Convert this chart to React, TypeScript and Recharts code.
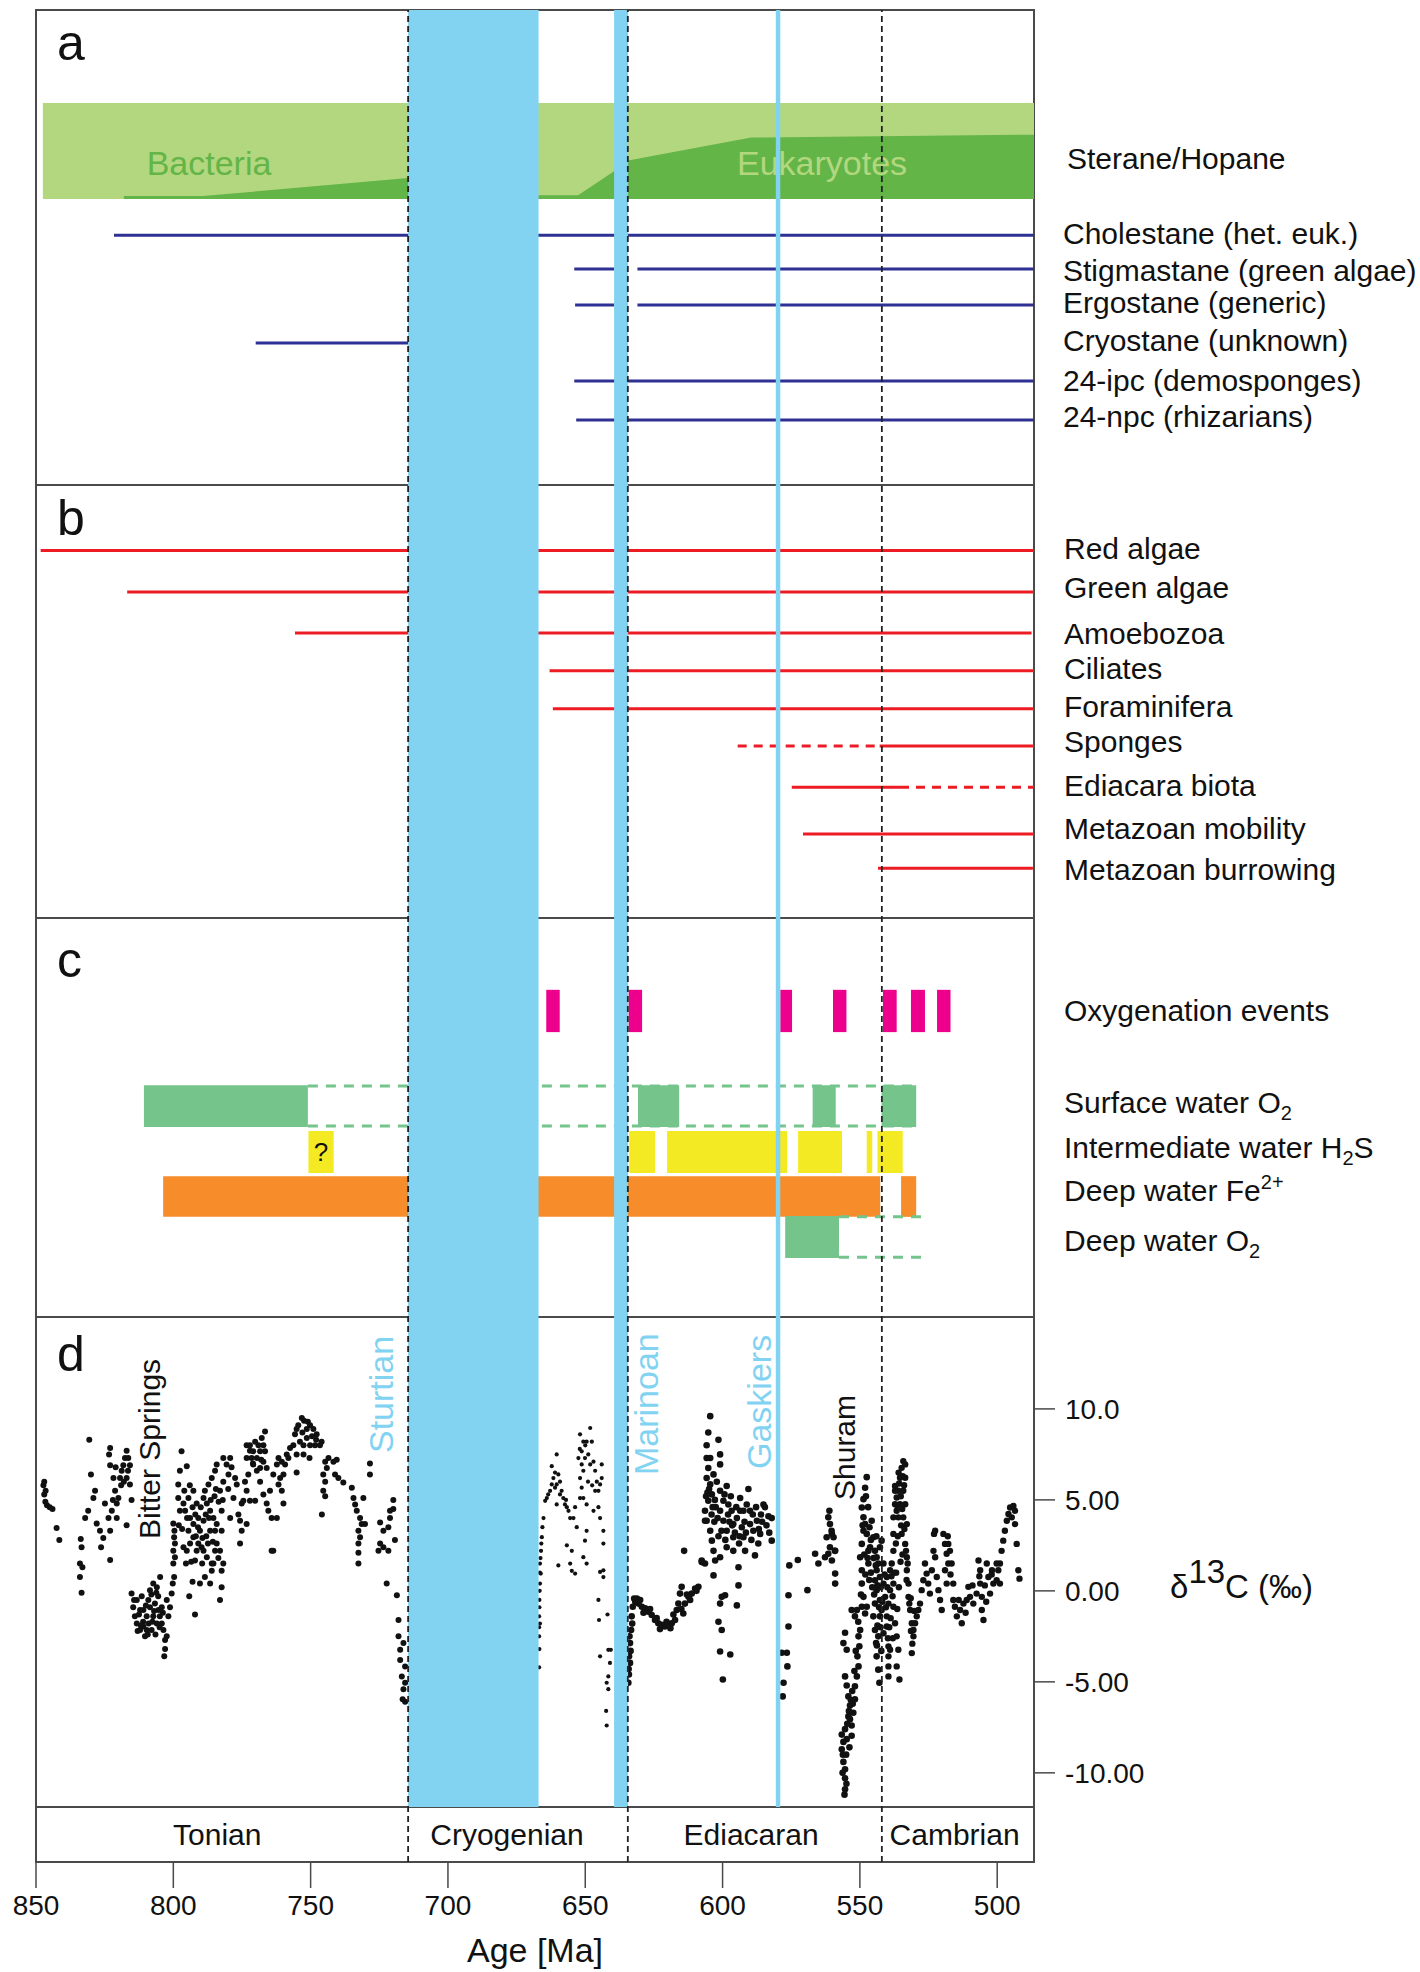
import React from "react";
import { ComposedChart, XAxis, YAxis, ReferenceLine, ReferenceArea, ReferenceDot, Area, Scatter } from "recharts";

const FONT = "'Liberation Sans', Arial, Helvetica, sans-serif";

// ---------------- data ----------------
const AGE_MAX = 850;
const AGE_MIN = 486.6;
const ageTicks = [850, 800, 750, 700, 650, 600, 550, 500];
const d13cTicks = [10, 5, 0, -5, -10];
const d13cTickLabels = ["10.0", "5.00", "0.00", "-5.00", "-10.00"];

const periodNames = ["Tonian", "Cryogenian", "Ediacaran", "Cambrian"];
const periodLabelAge = [784, 678.5, 589.6, 515.5];
const boundaryAges = [714.5, 634.5, 542];

const glacialNames = ["Sturtian", "Marinoan"];
const glacialStart = [714.5, 639.5];
const glacialEnd = [667, 634.4];
const gaskiersAge = 579.8;

// panel a: sterane / hopane
const steraneBandStart = 847.5;
const steraneAges = [818, 789.2, 714.5, 667, 652.6, 639.5, 634.4, 589.6, 486.6];
const steraneFrac = [0.03, 0.03, 0.22, 0.04, 0.04, 0.29, 0.4, 0.64, 0.67];

const biomarkerNames = [
  "Cholestane (het. euk.)",
  "Stigmastane (green algae)",
  "Ergostane (generic)",
  "Cryostane (unknown)",
  "24-ipc (demosponges)",
  "24-npc (rhizarians)",
];
const biomarkerRanges: number[][][] = [
  [[821.6, 486.6]],
  [[654, 639.5], [631, 486.6]],
  [[653.7, 639.5], [631, 486.6]],
  [[770, 714.5]],
  [[654, 486.6]],
  [[653.3, 486.6]],
];

// panel b: fossil record
const cladeNames = [
  "Red algae",
  "Green algae",
  "Amoebozoa",
  "Ciliates",
  "Foraminifera",
  "Sponges",
  "Ediacara biota",
  "Metazoan mobility",
  "Metazoan burrowing",
];
const cladeSolid: number[][] = [
  [848.3, 486.6],
  [816.8, 486.6],
  [755.7, 487.5],
  [663, 486.6],
  [661.8, 486.6],
  [542.8, 486.6],
  [574.8, 535.4],
  [570.7, 486.6],
  [543.4, 487],
];
const cladeDashed: (number[] | null)[] = [null, null, null, null, null, [594.5, 542.8], [535.4, 486.6], null, null];

// panel c: redox
const oxygenationEvents = [
  [664.2, 659.3], [634.2, 629.3], [579.0, 574.7], [559.8, 554.9],
  [541.6, 536.6], [531.4, 526.3], [521.9, 517.0],
];
const surfaceO2 = [[810.7, 751], [630.8, 615.8], [567.2, 558.8], [542.1, 529.5]];
const surfaceO2Uncertain = [751, 529.5];
const intermediateH2S = [[750.8, 741.6], [634, 624.6], [620.2, 576.5], [572.5, 556.5], [547.5, 545.5], [543.6, 534.4]];
const intermediateH2SNote = ["?", "", "", "", "", ""];
const deepFe = [[803.7, 542.6], [535, 529.5]];
const deepO2 = [[577.2, 557.6]];
const deepO2Uncertain = [557.6, 527.5];

// panel d: carbon isotopes [age Ma, d13C permil]
const tonianD13C: number[][] = [
  [847.3, 5.8], [847, 5.3], [846.6, 4.9], [846, 4.7], [845, 4.6], [844, 4.5], [846.5, 5.5], [847, 6.0],
  [842.5, 3.45], [841.5, 2.8],
  [833.7, 2.85], [833.4, 2.4], [834, 1.5], [833.1, 1.3], [834, 0.76], [833.4, -0.1],
  [830.6, 8.3], [830, 6.4],
  [832.1, 4.0], [831, 4.4], [829.1, 5.1], [828.5, 5.5], [827.9, 3.7], [826.7, 3.3], [826.3, 2.4], [825.5, 2.9],
  [824.9, 4.8], [823.6, 4.0], [823, 3.3], [823, 1.7], [823, 7.85], [823.4, 7.5], [823, 6.9], [821.8, 6.2],
  [821.2, 5.5], [820.6, 4.8], [820, 5.1], [819.4, 6.2], [818.8, 6.6], [818.2, 6.9], [817.6, 7.3], [817, 7.7],
  [816.4, 7.3], [815.8, 6.9], [817, 6.2], [815.8, 5.85], [820.6, 4.0], [817, 3.6], [815.2, 5.0], [822.4, 4.4],
  [819, 5.8], [818, 6.0], [821, 6.8], [816.5, 6.6], [822, 5.0],
  [815.2, -0.15], [814.6, -0.9], [814, -1.4], [813.3, -1.8], [812.1, -2.15], [810.9, -1.96], [809.7, -1.4],
  [810.3, -2.5], [809.1, -0.5], [808.5, 0.04], [807.3, 0.4], [806, 0.2], [806.7, -0.7], [805.4, -1.05],
  [804.9, -1.4], [804.2, -1.8], [803.6, -2.15], [803, -2.7], [803, -3.2], [803.3, -3.6], [802.4, -2.5],
  [801.8, -1.4], [801.2, -0.9], [804.8, 0.76], [812.1, -1.05], [813.3, -0.5], [808.5, -0.9], [810.9, -1.05],
  [807.3, -1.4], [807.9, -2.15], [809.7, -2.15], [806, -1.8], [804.2, -0.9], [802.4, -0.5], [800.6, -0.15],
  [811.5, -0.3], [808, -0.2], [805.5, -0.3], [811, -1.7], [806.5, -2.4], [813, -2.2], [809, -1.8],
  [812.5, -1.3], [810, -0.8], [807, -1.1], [805, -2.0], [803.8, -1.2], [811.8, -1.9], [814.3, -0.5], [806.2, -0.1],
  [809.3, -2.4], [807.6, -1.7],
  [800, 3.7], [799.7, 2.95], [800, 2.2], [800, 1.5], [799.7, 0.76], [800.2, 0.4], [799.6, 3.3], [799.4, 2.6], [799.4, 1.85],
  [797, 7.67], [797.6, 6.6], [798.2, 5.85], [798.2, 5.1], [797.6, 4.4], [796.3, 4.8], [795.1, 6.85], [794.5, 5.1],
  [793.9, 4.0], [792.7, 3.67], [792.7, 2.95], [793.9, 2.6], [795.1, 2.2], [792.7, 5.5], [791.5, 4.8], [790.9, 4.0],
  [790.3, 3.3], [789.7, 2.4], [789, 2.2], [792.1, 1.67], [793, 0.5], [794.2, -0.3], [792.1, -1.3], [790.3, 0.4],
  [788.5, 0.76], [786.6, 0.4], [786, 1.1], [785.4, 1.5], [784.8, 2.2], [784.2, 2.6], [784.2, 3.67], [785.4, 4.0],
  [786.6, 4.4], [787.8, 4.8], [789, 5.1], [788.5, 5.5], [787.2, 5.85], [786, 6.2], [784.8, 6.6], [784.2, 6.95],
  [781.8, 7.3], [780.6, 6.95], [779.3, 7.3], [778.8, 6.8], [779.9, 6.4], [781.8, 6.0], [783, 5.5], [782.4, 4.4],
  [782.4, 3.3], [783, 2.2], [781.8, 1.5], [782.4, 1.1], [782.4, 0.2], [783, -0.5], [786, 1.5], [787.8, 1.85],
  [790.9, 2.6], [791.5, 2.2], [795.7, 4.4], [794.5, 3.3], [796.3, 2.4], [786.6, 3.3], [784.8, 3.3], [789, 3.85],
  [778.1, 5.1], [779.3, 4.0], [777.5, 6.2], [776.9, 5.85],
  [796, 5.5], [795, 4.0], [793, 4.6], [791, 3.5], [788, 3.0], [787, 4.0], [785, 5.2], [783.5, 4.9], [782, 5.0],
  [780, 5.6], [789.5, 1.5], [793.5, 1.6],
  [794, 5.8], [792, 4.2], [790, 4.6], [788.2, 4.2], [786.4, 5.0], [784.5, 5.6], [791.8, 3.0], [789.4, 2.9],
  [787.4, 2.6], [785.6, 2.7], [783.6, 1.8], [796.8, 3.4], [795.4, 1.5], [798, 3.6],
  [776.3, 4.2], [775.7, 3.85], [775.1, 3.3], [775.7, 2.6], [775.1, 4.8], [774.5, 4.95], [773.9, 6.0], [773.3, 5.5],
  [772.7, 6.4], [772.1, 4.95], [773.3, 3.67], [770.2, 4.95],
  [773.3, 8.0], [772.1, 7.7], [771.5, 7.3], [770.9, 6.95], [769.6, 6.6], [768.4, 6.75], [767.2, 7.1], [766.6, 7.67],
  [766.6, 8.76], [767.8, 8.4], [769, 8.0], [768.4, 7.67], [767.2, 8.0], [769.6, 7.3], [772.1, 8.0], [770.9, 7.67],
  [773.3, 7.3], [770.2, 8.2], [766, 6.75], [768.4, 6.0], [767.2, 5.3], [766, 4.8], [765.4, 4.4], [764.2, 4.0],
  [762.3, 4.0], [764.2, 2.2], [763.6, 2.2], [764.8, 5.5], [763.6, 6.4], [762.3, 6.95], [761.7, 7.3], [760.5, 7.1],
  [759.9, 6.4], [761.7, 5.85], [760.5, 5.5], [759.9, 4.8], [761.1, 6.2], [759.3, 6.95], [758.7, 7.5], [757.5, 7.85],
  [758.1, 7.3], [756.3, 8.0], [755.7, 8.6], [755.1, 8.9], [754.5, 9.1], [753.2, 9.5], [752.4, 9.35], [751.4, 8.9],
  [750.2, 9.1], [749, 8.9], [747.8, 8.6], [748.4, 8.0], [750.2, 8.0], [751.4, 8.4], [752.6, 8.0], [753.9, 8.2],
  [755.1, 7.5], [752.6, 7.5], [750.4, 7.3], [746.6, 8.0], [746, 8.2], [755.1, 6.5],
  [771, 7.0], [768, 7.2], [753, 8.7], [751, 9.3], [749.5, 8.5], [748, 8.3],
  [744.7, 7.1], [743.5, 7.3], [741.7, 7.1], [740.5, 7.2], [744.1, 6.75], [745.4, 6.4], [744.7, 6.0], [745.4, 5.5],
  [744.7, 5.2], [745.9, 4.2], [741.1, 6.4], [739.9, 6.2], [738.1, 5.95], [735, 5.67], [734.4, 5.1], [733.8, 4.75],
  [733.2, 4.4], [732, 4.0], [730.8, 5.1], [731.4, 3.67], [730.2, 3.67], [732.6, 3.3], [732, 2.95], [732.6, 2.6],
  [732.6, 2.1], [732.6, 1.5], [728.4, 7.0], [728.4, 6.4],
  [724.7, 3.76], [723.5, 3.3], [721.7, 3.5], [721.1, 4.0], [719.9, 4.5], [719.9, 5.0], [721.1, 4.4], [724.7, 2.6],
  [725.3, 2.2], [723.5, 2.4], [721.7, 2.2], [719.3, 2.8], [722.3, 0.4], [718.6, -0.24], [718, -1.6], [718, -2.5],
  [717.4, -3.8], [716.8, -4.7], [716.2, -5.4], [715.6, -6.1], [717.4, -3.24], [716.2, -2.87], [715.6, -4.15],
  [716.5, -5.96], [715.6, -5.05],
];

const cryogenianD13C: number[][] = [
  [666.8, -2.5], [666.8, -1.4], [666.7, -0.5], [666.5, 0.4], [666.5, 1.5], [666.1, 2.2], [665.8, 2.95], [665.6, 3.5],
  [665.2, 4.0], [666.8, -4.2], [666.7, -3.2], [666.5, -1.8], [666.2, 0.95],
  [666.8, -2.0], [666.7, -0.9], [666.6, 0.0], [666.5, 1.0], [666.3, 1.8], [666, 2.6],
  [664.6, 4.95], [664, 5.1], [662.8, 5.5], [662.2, 5.85], [661.6, 6.2], [661, 5.67], [660.4, 5.85], [660.4, 7.5],
  [662.2, 6.85], [659.8, 6.4], [659.2, 6.0], [658.6, 5.5], [658, 5.1], [660.4, 4.75], [659.2, 5.3], [657.4, 4.75],
  [656.7, 4.6], [656.1, 4.4], [655.5, 4.0], [654.3, 4.0], [653.7, 4.6], [653.1, 3.5], [656.7, 2.5], [654.9, 2.2],
  [653.7, 0.95], [654.9, 1.1], [659.8, 1.4], [655.5, 1.5],
  [651.9, 8.6], [650.7, 8.2], [648.2, 8.95], [649.5, 8.2], [647.6, 8.2], [651.3, 7.67], [650.1, 7.3], [651.3, 6.95],
  [650.7, 6.6], [651.9, 6.2], [651.3, 5.67], [650.7, 5.1], [652.5, 7.3], [648.9, 7.5], [648.2, 6.95], [647, 7.1],
  [646.4, 6.6], [645.8, 6.0], [645.2, 5.5], [644.6, 5.85], [644, 6.95], [644, 6.2], [646.4, 5.5], [649.5, 4.75],
  [651.9, 5.1], [647, 4.4], [645.2, 4.6], [649.5, 3.3], [650.1, 2.76], [650.7, 1.85], [649.5, 1.5], [644.6, 4.0],
  [643.4, 3.3], [643.4, 2.6], [644.6, 1.04], [643.4, 1.13], [643.4, 0.76], [645.2, -0.5], [645, -1.6], [641.9, -1.3],
  [644.6, -3.6], [641.6, -3.24], [641, -3.96], [641.6, -4.7], [642.2, -5.05], [641.6, -5.4], [642.4, -6.6],
  [642.2, -7.4], [640.7, -3.24],
  [663.5, 5.3], [661, 6.5], [657, 5.0], [652, 7.8], [650, 8.0], [649, 6.0], [647.5, 5.8],
];

const ediacaranD13C: number[][] = [
  [634.3, -5.05], [634.2, -4.3], [634.05, -3.6], [633.7, -2.87], [633.3, -2.15], [633.1, -1.4], [632.7, -0.87],
  [632.2, -0.42], [631.2, -0.42], [630.6, -0.7], [629.4, -0.87], [628.2, -0.96], [627, -1.15], [625.8, -1.33],
  [624.6, -1.6], [623.4, -1.78], [622.2, -1.87], [621, -1.96], [619.7, -1.87], [618.5, -1.78], [617.3, -1.6],
  [616.7, -1.05], [616.1, -0.7], [615.5, -0.15], [614.9, 0.22], [614.3, -1.24], [613.7, -0.7], [612.4, -0.33],
  [611.2, -0.15], [610, 0.13], [608.8, 0.22], [614, 2.2], [633.7, -3.96], [633.9, -2.5],
  [634.1, -4.6], [633.5, -3.3], [632.9, -1.8], [631.8, -0.6], [630, -0.5], [628.8, -1.2], [626.4, -1.0], [624, -1.5],
  [622.8, -2.1], [620.4, -1.7], [619, -2.05], [617.9, -1.3], [615, -1.0], [613, -0.2], [611.8, -0.5], [609.5, 0.0],
  [607.6, 1.58], [606.4, 1.5], [604.5, 9.6], [605.2, 8.7], [605.8, 8.0], [605.8, 7.3], [605.2, 6.75], [605.8, 6.2],
  [604.5, 5.85], [603.9, 5.3], [605.2, 4.95], [606.4, 4.4], [605.8, 3.85], [604.5, 3.3], [603.9, 2.76], [603.3, 2.2],
  [602.7, 1.67], [603.3, 0.85], [601.5, 8.3], [600.9, 7.5], [600.9, 6.95], [602.1, 6.0], [600.9, 5.5], [599.7, 4.95],
  [598.5, 5.76], [600.9, 4.4], [599.7, 3.85], [598.5, 3.3], [597.9, 4.75], [596.7, 4.4], [596.1, 3.67], [594.8, 4.0],
  [593.6, 4.4], [593.6, 5.1], [593, 3.5], [592.4, 2.95], [591.8, 2.2], [590.6, 5.6], [590, 4.4], [590, 3.67],
  [588.8, 3.3], [587.5, 3.85], [586.3, 3.13], [585.1, 4.75], [583.3, 4.1], [582.1, 4.0], [582.1, 2.76], [588.2, 1.95],
  [596.1, 2.2], [598.5, 2.4], [600.9, 1.85], [594.2, 1.3], [594.2, 0.3], [594.8, -0.8], [599.1, -0.24], [600.3, -0.33],
  [600.9, -0.7], [601.5, -1.7], [600.3, -2.15], [600.9, -3.33], [597.2, -3.5], [599.9, -4.87], [607.6, 1.67],
  [606.4, 3.85], [596.1, 2.95], [592.4, 4.4], [591.2, 4.75], [603.3, 6.4], [604.5, 7.3],
  [604, 4.2], [602.5, 4.6], [601.5, 3.0], [599, 2.8], [597.5, 3.8], [595.5, 3.2], [594, 2.6], [592, 3.8], [589.5, 2.8],
  [587, 2.6], [586, 4.2], [584, 3.6], [597, 5.2], [603, 3.8],
  [604.9, 5.6], [603.6, 4.6], [602.8, 5.0], [601.8, 4.0], [600.4, 3.3], [599.3, 5.3], [598, 4.2], [596.5, 3.6],
  [595, 4.6], [593.8, 3.0], [591.5, 3.2], [589, 4.2], [587.8, 4.6], [586.8, 3.4], [585.6, 3.8], [584.6, 4.6],
  [583, 3.2], [605.5, 5.4], [606, 5.2],
  [578.5, -3.4], [577.8, -5.05], [578.1, -5.8], [576.6, -3.4], [576.4, -4.15], [576, -1.96], [576, -0.24],
  [575.7, 1.4], [572.6, 1.7], [569.1, 0.04], [566.3, 2.04], [565.1, 1.5], [562.7, 1.85], [561.5, 2.04], [560.2, 1.67],
  [559, 2.2], [559, 0.95], [559, 0.4], [562.1, 2.95], [561.5, 4.04], [560.9, 3.67], [560.2, 3.13], [559.6, 2.95],
  [561.1, 4.4], [560.3, 3.3], [559.1, 2.2], [560.9, 2.4],
  [553, -1.05], [555.4, -2.3], [556, -2.87], [554.8, -3.24], [555.4, -4.7], [554.8, -5.2], [554.2, -5.8],
  [553.6, -6.3], [554.2, -6.9], [555.4, -7.6], [556, -8.3], [556.6, -8.7], [556, -9.4], [555.4, -9.8], [555.4, -10.3],
  [555.4, -10.9], [555.6, -11.2], [556.6, -7.9], [554.8, -8.15], [553, -7.4], [553, -7.96], [553.6, -7.05],
  [552.4, -6.7], [551.8, -5.96], [551.8, -5.24], [551.1, -4.7], [550.5, -4.15], [550.9, -3.6], [550.2, -3.05],
  [550.5, -2.5], [549.9, -2.15], [551.8, -1.4], [551.1, -1.05], [549.3, -0.87], [548.1, -1.24], [547.5, -0.87],
  [548.7, -0.33], [549.3, 0.4], [549.3, 1.13], [549.9, 1.85], [549.3, 2.58], [548.7, 3.3], [548.7, 4.04],
  [549.3, 4.58], [548.7, 5.04], [548.1, 5.67], [547.5, 6.25], [548.1, 3.67], [547.5, 3.13], [546.9, 2.2],
  [546.9, 1.5], [546.3, 2.4], [545.7, 3.85], [545.1, 2.95], [544.5, 2.2], [543.9, 1.85], [543.9, 1.13],
  [544.5, 0.58], [543.9, 0.04], [544.5, -0.7], [545.1, -1.4], [544.5, -2.15], [544.1, -2.87], [543.9, -3.6],
  [543.3, -4.33], [542.9, -5.05], [543.3, -2.5], [542.7, -1.4], [542.1, -1.05], [542.7, -0.5], [542.7, 0.76],
  [543.3, 1.5], [542.7, 2.4], [542.1, 2.76],
  [555, -9.0], [554.6, -7.3], [553.3, -6.0], [552.8, -5.5], [552, -4.4], [551.5, -3.3], [556.3, -10.0], [554, -6.6],
  [546, 1.0], [545.5, 0.2], [544.8, -0.2], [543.6, -1.9], [544, 3.0], [546.5, 3.5], [547, 4.6], [548.4, 2.0],
  [549.6, -0.2],
  [543.6, 0.3], [544.2, 1.4], [542.4, 0.2], [543, -0.9], [542.5, -2.0], [543.8, -3.0], [542.2, -3.3],
  [546.6, 0.6], [547.2, 1.8], [546, 2.8], [545, 1.8], [548, 0.9], [549, 3.6], [547.8, 5.2], [550.6, -1.7],
  [552.6, -6.2], [553.8, -8.6], [554.9, -10.6], [556.2, -9.0],
];

const cambrianD13C: number[][] = [
  [541.4, 1.5], [541.4, 0.4], [540.8, -0.33], [541.4, -2.33], [540.2, -1.96], [539.6, -3.05], [539.6, -4.15],
  [539.6, -4.7], [540.2, -1.4], [539.6, -0.7], [540.2, 0.76], [539, 1.13], [539, 0.04], [537.8, 0.4], [538.4, 1.5],
  [537.8, 2.2], [537.8, 3.13], [537.8, 4.04], [537.2, 4.76], [537.2, 5.5], [537.2, 5.76], [536.6, 5.13],
  [536.6, 4.4], [536, 5.5], [536, 4.04], [535.4, 4.76], [535.4, 6.22], [534.8, 6.76], [534.2, 7.13], [533.5, 6.95],
  [533.5, 6.22], [534.2, 5.5], [533.5, 4.76], [534.2, 4.04], [532.9, 3.67], [534.8, 3.13], [533.5, 2.58],
  [532.9, 1.85], [532.9, 1.13], [532.3, 0.4], [532.3, -0.33], [531.7, -1.05], [531.1, -1.78], [530.5, -2.5],
  [531.1, -3.42], [530.5, -2.15], [529.9, -1.78], [529.3, -1.4], [528.7, -1.05], [528.1, -0.7], [527.5, 0.04],
  [526.9, 0.58], [526.3, 1.5], [525.7, 0.95], [525.1, 0.4], [524.5, -0.15], [523.8, 1.13], [523.2, 2.2], [523, 3.13],
  [522.6, 3.3], [522.6, 1.85], [522, 0.76], [521.4, 0.04], [520.8, -0.5], [520.2, -1.05], [536.6, -2.5], [536, -3.24],
  [535.6, -4.87], [536.6, -4.15], [539, -3.24], [539.6, -3.6], [537.8, -0.87], [537.2, -1.78],
  [536.2, 3.0], [535, 3.6], [534.5, 2.0], [536.8, 1.0], [535.8, 0.2], [538.8, -1.5], [538, -2.6], [536.4, -1.0],
  [535.2, 1.6], [533.9, 5.8], [535.9, 6.5], [534.6, 4.5], [533, 0.6], [531.5, -0.4], [530.9, -2.9],
  [541.8, -0.6], [541, 0.9], [540.5, -0.9], [539.3, -2.0], [539.8, -2.6], [540, 0.2], [538.5, 0.8], [538.1, -0.3],
  [537.5, 1.0], [536.9, 2.6], [536.4, 4.7], [535.7, 5.9], [535.1, 5.2], [534.4, 6.3], [533.8, 3.4], [533.2, 2.2],
  [532.6, 1.5], [532, -0.7], [531.4, -2.2], [530.2, -1.1],
  [519.6, 3.13], [519, 2.58], [518.4, 2.04], [517.8, 1.5], [517.2, 2.2], [516.6, 1.5], [516, 0.4], [519, 1.13],
  [518.4, 0.4], [517.8, 2.58], [516, -0.5], [515.4, -0.87], [514.7, -1.4], [513.5, -1.05], [512.9, -1.78],
  [512.3, -0.7], [511.1, -0.5], [510.5, 0.22], [509.9, -0.33], [508.7, -0.7], [507.5, -0.15], [506.8, 1.67],
  [506.2, 1.13], [506.2, 0.4], [505.6, -0.33], [505.6, -1.05], [505, -1.6], [503.8, 1.5], [503.2, 0.76],
  [502.6, -0.15], [501.4, 0.4], [500.2, 0.58], [499.6, 1.13], [499, 1.5], [498.4, 2.2], [497.8, 2.76], [497.2, 3.3],
  [496.5, 3.85], [495.9, 4.22], [495.3, 4.58], [494.1, 4.67], [493.5, 4.4], [493.5, 3.67], [492.9, 2.58],
  [492.3, 1.13], [491.9, 0.67], [494.7, 4.04], [499, 0.4], [500.2, 1.5], [501.9, 1.13],
  [518, 3.0], [517, 0.9], [514, -0.5], [511.5, -1.2], [509, 0.3], [506.5, 0.8], [504.5, 0.3], [502, 0.9], [504, -0.6],
];

// ---------------- styling / layout ----------------
const W = 1420;
const PLOT_LEFT = 36;
const PLOT_RIGHT = 1034;
const M = { top: 0, right: W - PLOT_RIGHT, bottom: 0, left: PLOT_LEFT };
const BLUE = "#82d3f2";
const NAVY = "#2e3192";
const RED = "#ed1c24";
const MAGENTA = "#ec008c";
const GREEN_BAR = "#74c48b";
const YELLOW = "#f4ea23";
const ORANGE = "#f68c2a";
const LIGHT_GREEN = "#b3d77f";
const DARK_GREEN = "#63b547";
const INK = "#111";
const FRAME = "#4a4a4a";

// row positions (percent of panel height)
const rowsA = [47.4, 54.5, 62.1, 70.1, 78.1, 86.3];
const bandA = [19.6, 39.8];
const rowsB = [15.1, 24.7, 34.2, 42.9, 51.7, 60.3, 69.8, 80.6, 88.5];
const rowC = {
  oxy: [18.0, 28.6],
  surface: [41.9, 52.4],
  surfaceDash: [42.1, 52.1],
  h2s: [53.4, 63.9],
  fe: [64.7, 74.9],
  deep: [74.7, 85.2],
  deepDash: [74.9, 85.0],
};
const D_DOMAIN: [number, number] = [-14.9, 15.05];
const PERIOD_LABEL_Y = -13.4;

const steraneTable = steraneAges.map((age, i) => ({ age, frac: steraneFrac[i] }));
const toRows = (arr: number[][]) => arr.map(([age, v]) => ({ age, d13c: v }));
const d13cSeries = [
  { key: "tonian", rows: toRows(tonianD13C), r: 3.0 },
  { key: "cryogenian", rows: toRows(cryogenianD13C), r: 2.1 },
  { key: "ediacaran", rows: toRows(ediacaranD13C), r: 3.3 },
  { key: "cambrian", rows: toRows(cambrianD13C), r: 3.2 },
];

const ageAxis = () => (
  <XAxis type="number" dataKey="age" domain={[AGE_MIN, AGE_MAX]} reversed allowDataOverflow hide />
);
const pctAxis = () => <YAxis type="number" domain={[0, 100]} reversed allowDataOverflow hide />;

const makeDot = (r: number) => (p: any) => <circle cx={p.cx} cy={p.cy} r={r} fill={INK} />;

function Abs({ top, children }: { top: number; children: React.ReactNode }) {
  return <div style={{ position: "absolute", left: 0, top }}>{children}</div>;
}

const labelA = [244, 281, 313, 351, 391, 427];
const labelB = [559, 598, 644, 679, 717, 752, 796, 839, 880];

function TextLayer() {
  const t = { fontFamily: FONT, fontSize: 30, fill: INK } as const;
  return (
    <svg width={W} height={1972} style={{ position: "absolute", left: 0, top: 0 }}>
      <text x={57} y={60} fontFamily={FONT} fontSize={50} fill={INK}>a</text>
      <text x={57} y={535} fontFamily={FONT} fontSize={50} fill={INK}>b</text>
      <text x={57} y={977} fontFamily={FONT} fontSize={50} fill={INK}>c</text>
      <text x={57} y={1371} fontFamily={FONT} fontSize={50} fill={INK}>d</text>

      <text x={209} y={175} fontFamily={FONT} fontSize={34} fill={DARK_GREEN} textAnchor="middle">Bacteria</text>
      <text x={822} y={175} fontFamily={FONT} fontSize={34} fill={LIGHT_GREEN} textAnchor="middle">Eukaryotes</text>

      <text x={1067} y={169} {...t}>Sterane/Hopane</text>
      {biomarkerNames.map((n, i) => (
        <text key={n} x={1063} y={labelA[i]} {...t}>{n}</text>
      ))}
      {cladeNames.map((n, i) => (
        <text key={n} x={1064} y={labelB[i]} {...t}>{n}</text>
      ))}
      <text x={1064} y={1021} {...t}>Oxygenation events</text>
      <text x={1064} y={1113} {...t}>Surface water O<tspan fontSize={20} dy={7}>2</tspan></text>
      <text x={1064} y={1158} {...t}>Intermediate water H<tspan fontSize={20} dy={7}>2</tspan><tspan dy={-7}>S</tspan></text>
      <text x={1064} y={1201} {...t}>Deep water Fe<tspan fontSize={20} dy={-12}>2+</tspan></text>
      <text x={1064} y={1251} {...t}>Deep water O<tspan fontSize={20} dy={7}>2</tspan></text>

      <text x={1170} y={1598} fontFamily={FONT} fontSize={33} fill={INK}>
        δ<tspan dy={-15}>13</tspan><tspan dy={15}>C (‰)</tspan>
      </text>

      <text x={160} y={1539} transform="rotate(-90 160 1539)" {...t}>Bitter Springs</text>
      <text x={393} y={1453} transform="rotate(-90 393 1453)" fontFamily={FONT} fontSize={34} fill={BLUE}>{glacialNames[0]}</text>
      <text x={658} y={1475} transform="rotate(-90 658 1475)" fontFamily={FONT} fontSize={34} fill={BLUE}>{glacialNames[1]}</text>
      <text x={771} y={1469} transform="rotate(-90 771 1469)" fontFamily={FONT} fontSize={34} fill={BLUE}>Gaskiers</text>
      <text x={855} y={1500} transform="rotate(-90 855 1500)" {...t}>Shuram</text>
    </svg>
  );
}

function FrameLayer() {
  const ys = [485, 918, 1317, 1807];
  return (
    <svg width={W} height={1972} style={{ position: "absolute", left: 0, top: 0 }}>
      <rect x={PLOT_LEFT} y={10} width={PLOT_RIGHT - PLOT_LEFT} height={1852} fill="none" stroke={FRAME} strokeWidth={2} />
      {ys.map((y) => (
        <line key={y} x1={PLOT_LEFT} x2={PLOT_RIGHT} y1={y} y2={y} stroke={FRAME} strokeWidth={2} />
      ))}
    </svg>
  );
}

export default function App() {
  return (
    <div style={{ position: "absolute", left: 0, top: 0, width: W, height: 1972, background: "#fff", fontFamily: FONT, overflow: "hidden" }}>
      <FrameLayer />

      {/* panel a */}
      <Abs top={10}>
        <ComposedChart width={W} height={475} margin={M} data={[]}>
          {ageAxis()}
          {pctAxis()}
          <ReferenceArea x1={steraneBandStart} x2={AGE_MIN} y1={bandA[0]} y2={bandA[1]} fill={LIGHT_GREEN} fillOpacity={1} stroke="none" ifOverflow="visible" />
          {biomarkerRanges.map((segs, i) =>
            segs.map(([a, b], j) => (
              <ReferenceLine key={`a${i}-${j}`} segment={[{ x: a, y: rowsA[i] }, { x: b, y: rowsA[i] }]} stroke={NAVY} strokeWidth={3} ifOverflow="visible" />
            ))
          )}
        </ComposedChart>
      </Abs>
      <Abs top={103}>
        <ComposedChart width={W} height={96} margin={M} data={steraneTable}>
          {ageAxis()}
          <YAxis type="number" domain={[0, 1]} allowDataOverflow hide />
          <Area type="linear" dataKey="frac" fill={DARK_GREEN} fillOpacity={1} stroke="none" isAnimationActive={false} />
        </ComposedChart>
      </Abs>

      {/* panel b */}
      <Abs top={485}>
        <ComposedChart width={W} height={433} margin={M} data={[]}>
          {ageAxis()}
          {pctAxis()}
          {cladeSolid.map(([a, b], i) => (
            <ReferenceLine key={`bs${i}`} segment={[{ x: a, y: rowsB[i] }, { x: b, y: rowsB[i] }]} stroke={RED} strokeWidth={3} ifOverflow="visible" />
          ))}
          {cladeDashed.map((r, i) =>
            r ? (
              <ReferenceLine key={`bd${i}`} segment={[{ x: r[0], y: rowsB[i] }, { x: r[1], y: rowsB[i] }]} stroke={RED} strokeWidth={3} strokeDasharray="9 7" ifOverflow="visible" />
            ) : null
          )}
        </ComposedChart>
      </Abs>

      {/* panel c */}
      <Abs top={918}>
        <ComposedChart width={W} height={399} margin={M} data={[]}>
          {ageAxis()}
          {pctAxis()}
          {rowC.surfaceDash.map((y, i) => (
            <ReferenceLine key={`sd${i}`} segment={[{ x: surfaceO2Uncertain[0], y }, { x: surfaceO2Uncertain[1], y }]} stroke={GREEN_BAR} strokeWidth={3} strokeDasharray="10 8" ifOverflow="visible" />
          ))}
          {rowC.deepDash.map((y, i) => (
            <ReferenceLine key={`dd${i}`} segment={[{ x: deepO2Uncertain[0], y }, { x: deepO2Uncertain[1], y }]} stroke={GREEN_BAR} strokeWidth={3} strokeDasharray="10 8" ifOverflow="visible" />
          ))}
          {oxygenationEvents.map(([a, b], i) => (
            <ReferenceArea key={`o${i}`} x1={a} x2={b} y1={rowC.oxy[0]} y2={rowC.oxy[1]} fill={MAGENTA} fillOpacity={1} stroke="none" ifOverflow="visible" />
          ))}
          {surfaceO2.map(([a, b], i) => (
            <ReferenceArea key={`s${i}`} x1={a} x2={b} y1={rowC.surface[0]} y2={rowC.surface[1]} fill={GREEN_BAR} fillOpacity={1} stroke="none" ifOverflow="visible" />
          ))}
          {intermediateH2S.map(([a, b], i) => (
            <ReferenceArea
              key={`h${i}`}
              x1={a}
              x2={b}
              y1={rowC.h2s[0]}
              y2={rowC.h2s[1]}
              fill={YELLOW}
              fillOpacity={1}
              stroke="none"
              ifOverflow="visible"
              label={intermediateH2SNote[i] ? { value: intermediateH2SNote[i], position: "center", fontSize: 26, fill: INK, fontFamily: FONT } : undefined}
            />
          ))}
          {deepFe.map(([a, b], i) => (
            <ReferenceArea key={`f${i}`} x1={a} x2={b} y1={rowC.fe[0]} y2={rowC.fe[1]} fill={ORANGE} fillOpacity={1} stroke="none" ifOverflow="visible" />
          ))}
          {deepO2.map(([a, b], i) => (
            <ReferenceArea key={`d${i}`} x1={a} x2={b} y1={rowC.deep[0]} y2={rowC.deep[1]} fill={GREEN_BAR} fillOpacity={1} stroke="none" ifOverflow="visible" />
          ))}
        </ComposedChart>
      </Abs>

      {/* panel d */}
      <Abs top={1317}>
        <ComposedChart width={W} height={655} margin={{ top: 0, right: W - PLOT_RIGHT - 120, bottom: 0, left: PLOT_LEFT }}>
          <XAxis
            type="number"
            dataKey="age"
            domain={[AGE_MIN, AGE_MAX]}
            reversed
            allowDataOverflow
            ticks={ageTicks}
            interval={0}
            height={110}
            tickSize={26}
            tickMargin={7}
            axisLine={false}
            tickLine={{ stroke: FRAME, strokeWidth: 1.5 }}
            tick={{ fontSize: 28, fill: INK, fontFamily: FONT }}
            label={{ value: "Age [Ma]", position: "insideBottom", offset: 10, fontSize: 34, fill: INK, fontFamily: FONT }}
          />
          <YAxis
            type="number"
            dataKey="d13c"
            orientation="right"
            domain={D_DOMAIN}
            allowDataOverflow
            ticks={d13cTicks}
            interval={0}
            width={120}
            tickSize={21}
            tickMargin={10}
            axisLine={false}
            tickLine={{ stroke: FRAME, strokeWidth: 1.5 }}
            tick={{ fontSize: 28, fill: INK, fontFamily: FONT }}
            tickFormatter={(v: number) => d13cTickLabels[d13cTicks.indexOf(v)] ?? String(v)}
          />
          {periodNames.map((n, i) => (
            <ReferenceDot
              key={n}
              x={periodLabelAge[i]}
              y={PERIOD_LABEL_Y}
              r={0}
              fill="none"
              stroke="none"
              ifOverflow="visible"
              label={{ value: n, position: "center", fontSize: 30, fill: INK, fontFamily: FONT }}
            />
          ))}
          {d13cSeries.map((s) => (
            <Scatter key={s.key} name={s.key} data={s.rows} dataKey="d13c" shape={makeDot(s.r)} isAnimationActive={false} />
          ))}
        </ComposedChart>
      </Abs>

      <TextLayer />

      {/* glacial bands overlay */}
      <Abs top={10}>
        <ComposedChart width={W} height={1797} margin={M} data={[]}>
          {ageAxis()}
          {pctAxis()}
          {glacialNames.map((n, i) => (
            <ReferenceArea key={n} x1={glacialStart[i]} x2={glacialEnd[i]} fill={BLUE} fillOpacity={1} stroke="none" ifOverflow="visible" />
          ))}
          <ReferenceLine x={gaskiersAge} stroke={BLUE} strokeWidth={4.5} ifOverflow="visible" />
        </ComposedChart>
      </Abs>

      {/* period boundary dashed lines */}
      <Abs top={10}>
        <ComposedChart width={W} height={1852} margin={M} data={[]}>
          {ageAxis()}
          {pctAxis()}
          {boundaryAges.map((a) => (
            <ReferenceLine key={a} x={a} stroke="#222" strokeWidth={1.8} strokeDasharray="6 4" ifOverflow="visible" />
          ))}
        </ComposedChart>
      </Abs>
    </div>
  );
}
